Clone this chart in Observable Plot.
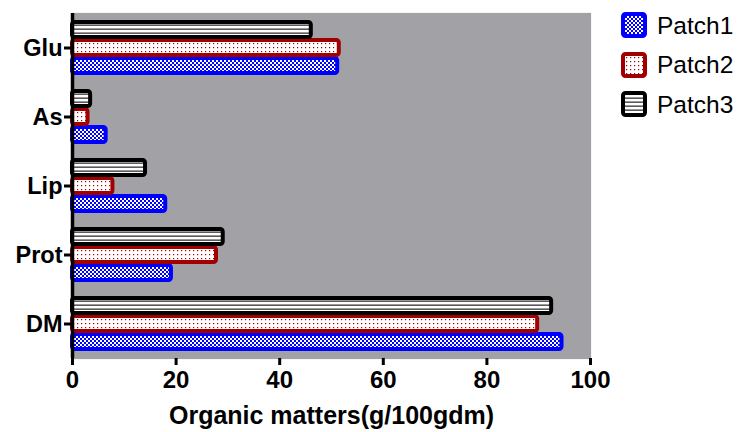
<!DOCTYPE html>
<html><head><meta charset="utf-8">
<script src="https://cdn.jsdelivr.net/npm/d3@7"></script>
<script src="https://cdn.jsdelivr.net/npm/@observablehq/plot@0.6"></script>
<style>
body{margin:0;background:#fff;font-family:"Liberation Sans",Arial,sans-serif;}
#wrap{position:relative;width:737px;height:432px;overflow:hidden;}
#legend{position:absolute;left:621px;top:6px;}
.item{display:flex;align-items:center;height:39.5px;font-size:24.5px;color:#000;}
.item svg{margin-right:9px;}
</style></head><body>
<svg width="0" height="0" style="position:absolute"><defs>
<pattern id="pat1" width="4" height="4" patternUnits="userSpaceOnUse"><rect width="4" height="4" fill="#fff"/><rect width="2" height="2" fill="#0000ff"/><rect x="2" y="2" width="2" height="2" fill="#0000ff"/></pattern>
<pattern id="pat2" width="4" height="4" patternUnits="userSpaceOnUse"><rect width="4" height="4" fill="#fff"/><rect x="1" y="1" width="1.2" height="1.2" fill="#a00000"/></pattern>
<pattern id="pat3" width="4" height="4" patternUnits="userSpaceOnUse"><rect width="4" height="4" fill="#fff"/><rect y="2.5" width="4" height="1.3" fill="#333"/></pattern>
</defs></svg>
<div id="wrap"><div id="legend"></div></div>
<script>
const groups = ["Glu","As","Lip","Prot","DM"];
const series = ["Patch1","Patch2","Patch3"];
const patch1 = [51.2, 6.5, 18.0, 19.1, 94.5];
const patch2 = [51.5, 3.0, 7.8, 27.8, 89.8];
const patch3 = [46.1, 3.5, 14.1, 29.1, 92.5];
const xTicks = [0,20,40,60,80,100];
const xLabel = "Organic matters(g/100gdm)";
const strokes = {Patch1:"#0000ff", Patch2:"#a00000", Patch3:"#000000"};
const fills = {Patch1:"url(#pat1)", Patch2:"url(#pat2)", Patch3:"url(#pat3)"};
const values = {Patch1:patch1, Patch2:patch2, Patch3:patch3};

const data = groups.flatMap((g,i)=>series.map(s=>({group:g, patch:s, value:values[s][i]})));

const chart = Plot.plot({
  width:737, height:432,
  marginLeft:72, marginRight:147, marginTop:11, marginBottom:73,
  style:{fontFamily:"'Liberation Sans', Arial, sans-serif", background:"transparent", color:"#000"},
  x:{domain:[0,100]},
  y:{domain:["Patch3","Patch2","Patch1"], paddingInner:0.18, paddingOuter:0.45, axis:null},
  fy:{domain:groups, padding:0, axis:null},
  marks:[
    Plot.frame({fill:"#a2a1a5", stroke:"#a2a1a5", strokeWidth:1.2}),
    ...series.map(s=>Plot.barX(data.filter(d=>d.patch===s), {x:"value", y:"patch", fy:"group", fill:fills[s], stroke:strokes[s], strokeWidth:4, rx:2.5})),
    Plot.ruleX([0], {stroke:"#000", strokeWidth:3.5}),
    Plot.axisFy({anchor:"left", tickSize:8, tickPadding:2, fontSize:23.5, fontWeight:"bold", strokeWidth:3, label:null}),
    Plot.axisX({ticks:xTicks, tickSize:7, tickPadding:5, fontSize:24, fontWeight:"bold", strokeWidth:3, line:true, label:null}),
    Plot.axisX({ticks:[], tickSize:0, fontSize:25, fontWeight:"bold", label:xLabel, labelAnchor:"center", labelArrow:"none", labelOffset:65})
  ]
});
document.getElementById("wrap").prepend(chart);

const legend = d3.select("#legend");
series.forEach(s=>{
  const it = legend.append("div").attr("class","item");
  const sv = it.append("svg").attr("width",27).attr("height",27);
  sv.append("rect").attr("x",2).attr("y",2).attr("width",22).attr("height",22).attr("rx",2.5)
    .attr("fill",fills[s]).attr("stroke",strokes[s]).attr("stroke-width",4);
  it.append("span").text(s);
});
</script>
</body></html>
